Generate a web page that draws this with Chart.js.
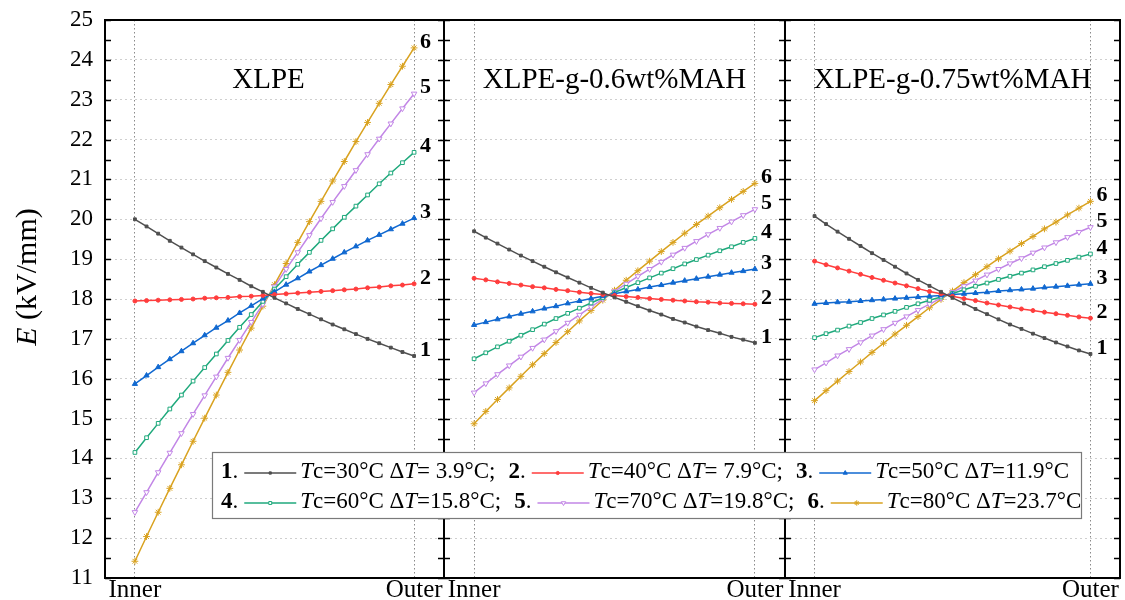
<!DOCTYPE html>
<html>
<head>
<meta charset="utf-8">
<script src="https://cdn.jsdelivr.net/npm/chart.js@4.4.1/dist/chart.umd.min.js"></script>
<style>
  html, body { margin: 0; padding: 0; background: #fff; }
  #wrap { width: 1125px; height: 600px; }
</style>
</head>
<body>
<div id="wrap"><canvas id="myChart" width="1125" height="600"></canvas></div>
<script>
// Datos: E (kV/mm) desde el conductor (Inner) hasta la pantalla (Outer)
const panelTitles = ['XLPE', 'XLPE-g-0.6wt%MAH', 'XLPE-g-0.75wt%MAH'];
const positionLabels = ['Inner', 'Outer'];
const tcValues = [30, 40, 50, 60, 70, 80];
const deltaT = [3.9, 7.9, 11.9, 15.8, 19.8, 23.7];

// XLPE
const xlpeTc30 = [20.00,19.82,19.64,19.46,19.29,19.12,18.95,18.79,18.63,18.48,18.32,18.18,18.03,17.89,17.75,17.62,17.49,17.36,17.24,17.12,17.00,16.89,16.78,16.67,16.57];
const xlpeTc40 = [17.95,17.96,17.97,17.98,17.99,18.00,18.02,18.03,18.04,18.06,18.07,18.09,18.11,18.13,18.15,18.17,18.19,18.21,18.23,18.25,18.28,18.30,18.33,18.35,18.38];
const xlpeTc50 = [15.87,16.08,16.29,16.49,16.69,16.89,17.09,17.28,17.46,17.65,17.83,18.01,18.18,18.36,18.52,18.69,18.85,19.01,19.17,19.32,19.47,19.61,19.75,19.89,20.03];
const xlpeTc60 = [14.15,14.52,14.88,15.24,15.59,15.94,16.28,16.62,16.96,17.29,17.61,17.94,18.25,18.56,18.87,19.17,19.47,19.76,20.05,20.33,20.61,20.89,21.16,21.42,21.68];
const xlpeTc70 = [12.65,13.15,13.65,14.14,14.63,15.11,15.58,16.05,16.52,16.97,17.42,17.87,18.31,18.75,19.17,19.60,20.02,20.43,20.83,21.23,21.63,22.02,22.40,22.78,23.15];
const xlpeTc80 = [11.42,12.04,12.65,13.25,13.84,14.43,15.01,15.59,16.16,16.72,17.27,17.82,18.36,18.89,19.42,19.94,20.45,20.96,21.45,21.95,22.43,22.91,23.38,23.84,24.30];

// XLPE-g-0.6wt%MAH
const mah06Tc30 = [19.70,19.54,19.39,19.24,19.09,18.95,18.81,18.67,18.54,18.41,18.28,18.16,18.04,17.93,17.82,17.71,17.61,17.50,17.41,17.31,17.22,17.14,17.05,16.98,16.90];
const mah06Tc40 = [18.52,18.48,18.43,18.39,18.35,18.31,18.28,18.24,18.21,18.17,18.14,18.11,18.09,18.06,18.04,18.01,17.99,17.97,17.95,17.93,17.92,17.90,17.89,17.88,17.87];
const mah06Tc50 = [17.35,17.42,17.49,17.56,17.63,17.69,17.76,17.82,17.89,17.95,18.01,18.07,18.13,18.19,18.24,18.30,18.35,18.41,18.46,18.51,18.56,18.61,18.66,18.70,18.75];
const mah06Tc60 = [16.50,16.65,16.80,16.94,17.09,17.23,17.37,17.51,17.64,17.77,17.90,18.03,18.16,18.29,18.41,18.53,18.65,18.76,18.88,18.99,19.10,19.21,19.31,19.42,19.52];
const mah06Tc70 = [15.65,15.88,16.11,16.33,16.55,16.77,16.98,17.19,17.40,17.60,17.80,18.00,18.19,18.38,18.57,18.75,18.93,19.11,19.28,19.45,19.62,19.78,19.94,20.10,20.25];
const mah06Tc80 = [14.87,15.18,15.48,15.77,16.06,16.35,16.63,16.91,17.18,17.45,17.71,17.97,18.22,18.47,18.71,18.95,19.19,19.42,19.65,19.87,20.08,20.29,20.50,20.70,20.90];

// XLPE-g-0.75wt%MAH
const mah075Tc30 = [20.08,19.88,19.69,19.51,19.33,19.15,18.98,18.81,18.64,18.48,18.33,18.18,18.03,17.89,17.75,17.62,17.49,17.36,17.25,17.13,17.02,16.91,16.81,16.71,16.62];
const mah075Tc40 = [18.95,18.86,18.78,18.70,18.62,18.54,18.47,18.40,18.33,18.26,18.19,18.13,18.07,18.01,17.96,17.90,17.85,17.80,17.75,17.71,17.67,17.63,17.59,17.55,17.52];
const mah075Tc50 = [17.88,17.90,17.92,17.93,17.95,17.97,17.99,18.01,18.03,18.05,18.07,18.09,18.11,18.13,18.15,18.17,18.20,18.22,18.24,18.26,18.29,18.31,18.33,18.36,18.38];
const mah075Tc60 = [17.03,17.13,17.22,17.32,17.41,17.51,17.60,17.69,17.79,17.88,17.97,18.05,18.14,18.23,18.32,18.40,18.49,18.57,18.65,18.73,18.81,18.89,18.97,19.05,19.13];
const mah075Tc70 = [16.23,16.40,16.58,16.74,16.91,17.08,17.24,17.40,17.56,17.72,17.87,18.02,18.17,18.32,18.46,18.61,18.75,18.89,19.02,19.16,19.29,19.42,19.55,19.68,19.80];
const mah075Tc80 = [15.45,15.70,15.94,16.18,16.42,16.66,16.89,17.12,17.34,17.56,17.78,17.99,18.20,18.41,18.61,18.81,19.01,19.20,19.39,19.57,19.76,19.93,20.11,20.28,20.45];

const panels = [
    [xlpeTc30, xlpeTc40, xlpeTc50, xlpeTc60, xlpeTc70, xlpeTc80],
    [mah06Tc30, mah06Tc40, mah06Tc50, mah06Tc60, mah06Tc70, mah06Tc80],
    [mah075Tc30, mah075Tc40, mah075Tc50, mah075Tc60, mah075Tc70, mah075Tc80]
];

// Estilos de cada serie
const colors = ['#4f4f4f', '#ff3d3d', '#1068d0', '#1fa97c', '#c286e6', '#d9a21f'];
const pStyles = ['rect', 'circle', 'triangle', 'rect', 'triangle', 'star'];
const pRadius = [2, 2, 3, 2.6, 3.2, 3.4];
const pFilled = [true, true, true, false, false, false];
const pRotation = [0, 0, 0, 0, 180, 0];
const panelWeights = [340, 342, 336];

const SERIF = '"Liberation Serif", "Times New Roman", serif';

const datasets = [];
panels.forEach((series, p) => {
    series.forEach((values, s) => {
        datasets.push({
            label: panelTitles[p] + ' ' + (s + 1),
            data: values.map((v, i) => ({x: i, y: v})),
            xAxisID: 'x' + p,
            yAxisID: 'y',
            borderColor: colors[s],
            backgroundColor: colors[s],
            borderWidth: 1.5,
            pointStyle: pStyles[s],
            pointRadius: pRadius[s],
            pointRotation: pRotation[s],
            pointBorderWidth: 1,
            pointBorderColor: colors[s],
            pointBackgroundColor: pFilled[s] ? colors[s] : '#ffffff',
            tension: 0
        });
    });
});

function xAxis(p) {
    const last = panels[p][0].length - 1;
    return {
        type: 'linear',
        position: 'bottom',
        stack: 'panels',
        stackWeight: panelWeights[p],
        min: -last * 30 / 280,
        max: last + last * 30 / 280,
        afterBuildTicks: s => { s.ticks = [{value: 0}, {value: last}]; },
        afterFit: s => {
            s.height = 22;
            s.paddingLeft = 0; s.paddingRight = 0; s.paddingTop = 0; s.paddingBottom = 0;
        },
        ticks: {
            autoSkip: false,
            maxRotation: 0,
            padding: 0,
            color: '#000',
            font: {family: SERIF, size: 25, lineHeight: 1},
            callback: v => (v === 0 ? positionLabels[0] : positionLabels[1])
        },
        grid: {color: '#8a8a8a', lineWidth: 1, drawTicks: false},
        border: {display: false, dash: [1.5, 2.5]}
    };
}

// Leyenda con números en negrita y T en cursiva
function drawLegend(ctx) {
    const bx = 212, by = 452, bw = 869, bh = 66;
    ctx.save();
    ctx.fillStyle = '#fff';
    ctx.fillRect(bx, by, bw, bh);
    ctx.strokeStyle = '#7a7a7a';
    ctx.lineWidth = 1.2;
    ctx.strokeRect(bx + 0.5, by + 0.5, bw, bh);
    ctx.textBaseline = 'middle';
    ctx.textAlign = 'left';
    ctx.fillStyle = '#000';
    const rows = [[0, 1, 2], [3, 4, 5]];
    rows.forEach((row, r) => {
        let x = 221;
        const y = 472 + r * 30;
        row.forEach((s, k) => {
            ctx.font = 'bold 23px ' + SERIF;
            ctx.fillText(String(s + 1), x, y);
            x += ctx.measureText(String(s + 1)).width;
            ctx.font = '23px ' + SERIF;
            ctx.fillText('.', x, y);
            x += ctx.measureText('.').width + 6;
            ctx.strokeStyle = colors[s];
            ctx.lineWidth = 1.5;
            ctx.beginPath();
            ctx.moveTo(x, y + 1);
            ctx.lineTo(x + 52, y + 1);
            ctx.stroke();
            ctx.fillStyle = pFilled[s] ? colors[s] : '#fff';
            ctx.strokeStyle = colors[s];
            ctx.lineWidth = 1;
            Chart.helpers.drawPoint(ctx, {pointStyle: pStyles[s], radius: pRadius[s] * 0.8, rotation: pRotation[s], borderWidth: 1}, x + 26, y + 1);
            ctx.fillStyle = '#000';
            x += 56;
            const dt = deltaT[s] < 10 ? ' ' + deltaT[s].toFixed(1) : deltaT[s].toFixed(1);
            const segs = [
                ['T', 'italic '], ['c=' + tcValues[s] + '\u00B0C \u0394', ''],
                ['T', 'italic '], ['=' + dt + '\u00B0C' + (k < 2 ? ';' : ''), '']
            ];
            segs.forEach(([t, st]) => {
                ctx.font = st + '23px ' + SERIF;
                ctx.fillText(t, x, y);
                x += ctx.measureText(t).width;
            });
            x += 13;
        });
    });
    ctx.restore();
}

const panelDecor = {
    id: 'panelDecor',
    afterDraw(chart) {
        const ctx = chart.ctx;
        const area = chart.chartArea;
        const yScale = chart.scales.y;
        ctx.save();
        panels.forEach((series, p) => {
            const xs = chart.scales['x' + p];
            // marco del panel
            ctx.strokeStyle = '#000';
            ctx.lineWidth = 2;
            ctx.strokeRect(xs.left, area.top, xs.right - xs.left, area.bottom - area.top);
            // marcas interiores cada 0.5
            ctx.lineWidth = 1.5;
            ctx.beginPath();
            for (let v = yScale.min; v <= yScale.max; v += 0.5) {
                const py = Math.round(yScale.getPixelForValue(v)) + 0.5;
                ctx.moveTo(xs.left, py); ctx.lineTo(xs.left + 6, py);
                ctx.moveTo(xs.right - 6, py); ctx.lineTo(xs.right, py);
            }
            ctx.stroke();
            // título del panel
            ctx.fillStyle = '#000';
            ctx.font = '29px ' + SERIF;
            ctx.textAlign = 'center';
            ctx.textBaseline = 'alphabetic';
            ctx.fillText(panelTitles[p], (xs.left + xs.right) / 2 - (p === 0 ? 6 : 0), 88);
            // números de curva al final
            ctx.font = 'bold 22px ' + SERIF;
            ctx.textAlign = 'left';
            ctx.textBaseline = 'middle';
            series.forEach((values, s) => {
                const meta = chart.getDatasetMeta(p * 6 + s);
                const pt = meta.data[meta.data.length - 1];
                ctx.fillText(String(s + 1), pt.x + 6, pt.y - 6);
            });
        });
        // título del eje Y
        ctx.translate(28, 277);
        ctx.rotate(-Math.PI / 2);
        ctx.textBaseline = 'middle';
        ctx.textAlign = 'left';
        ctx.font = 'italic 30px ' + SERIF;
        const w1 = ctx.measureText('E').width;
        ctx.font = '30px ' + SERIF;
        const w2 = ctx.measureText(' (kV/mm)').width;
        let x0 = -(w1 + w2) / 2;
        ctx.font = 'italic 30px ' + SERIF;
        ctx.fillText('E', x0, 0);
        ctx.font = '30px ' + SERIF;
        ctx.fillText(' (kV/mm)', x0 + w1, 0);
        ctx.restore();
        drawLegend(ctx);
    }
};

const ctx = document.getElementById('myChart').getContext('2d');
const chart = new Chart(ctx, {
    type: 'line',
    data: {datasets: datasets},
    options: {
        responsive: false,
        animation: false,
        devicePixelRatio: 1,
        events: [],
        layout: {padding: {top: 20, right: 2, left: 0, bottom: 0}},
        plugins: {legend: {display: false}, tooltip: {enabled: false}},
        scales: {
            x0: xAxis(0),
            x1: xAxis(1),
            x2: xAxis(2),
            y: {
                type: 'linear',
                position: 'left',
                min: 11,
                max: 25,
                afterFit: s => {
                    s.width = 105;
                    s.paddingTop = 0; s.paddingBottom = 0;
                },
                ticks: {stepSize: 1, padding: 12, color: '#000', font: {family: SERIF, size: 23}},
                grid: {color: '#cfcfcf', lineWidth: 1, drawTicks: false},
                border: {display: false, dash: [2, 3]}
            }
        }
    },
    plugins: [panelDecor]
});
</script>
</body>
</html>
